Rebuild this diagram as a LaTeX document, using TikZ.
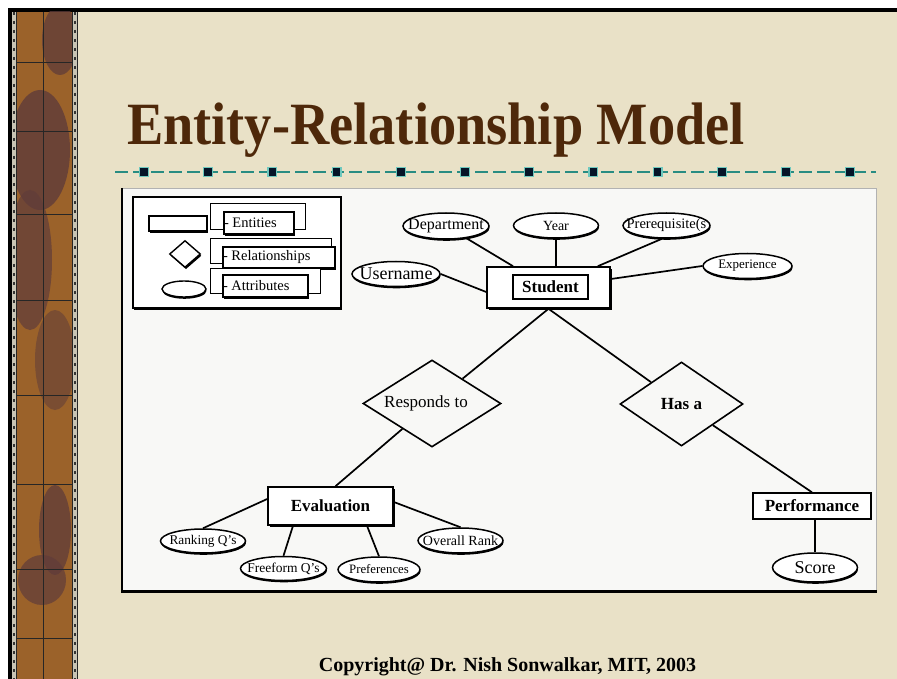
\documentclass[tikz,border=0pt]{standalone}
\usepackage{fontspec}
\setmainfont{Liberation Serif}
\usetikzlibrary{shapes.geometric,shadows,calc}
\definecolor{parch}{RGB}{233,225,199}
\definecolor{titlebrown}{RGB}{78,40,10}
\definecolor{tealline}{RGB}{40,140,130}
\definecolor{tealhalo}{RGB}{110,200,190}
\definecolor{navysq}{RGB}{5,20,40}
\definecolor{panelc}{RGB}{248,248,246}
\definecolor{stripbrown}{RGB}{155,98,42}
\definecolor{stripdark}{RGB}{96,60,58}
\definecolor{sprocket}{RGB}{200,196,180}
\newcommand\fsz[1]{\fontsize{#1}{#1}\selectfont}
\tikzset{
  shad/.style={drop shadow={shadow xshift=#1, shadow yshift=-1.8pt, opacity=1, fill=black}},
  shad/.default=0.8pt,
  attr/.style={ellipse, draw=black, line width=1.5pt, fill=white, inner sep=0pt, shad=0.5pt},
  entbox/.style={rectangle, draw=black, line width=1.5pt, fill=white, inner sep=0pt, font=\bfseries\fsz{17}},
  relbox/.style={diamond, draw=black, line width=1.6pt, fill=panelc, inner sep=0pt, font=\fsz{17}},
  link/.style={draw=black, line width=1.7pt},
  legback/.style={rectangle, draw=black, line width=1pt, fill=white, inner sep=0pt},
  legfront/.style={rectangle, draw=black, line width=1.4pt, fill=white, inner sep=0pt, font=\fsz{14.5}, shad=0.6pt}
}
\begin{document}
\begin{tikzpicture}[x=1pt,y=-1pt]
\useasboundingbox (0,0) rectangle (897,679);
% background and frame
\fill[white] (0,0) rectangle (897,679);
\fill[black] (8,8) rectangle (897,679);
\fill[parch] (12,12) rectangle (897,679);
% left decorative strip
\fill[stripbrown] (12,12) rectangle (77,679);
\begin{scope}
\clip (16,12) rectangle (72,679);
\fill[stripdark, opacity=0.75] (60,40) ellipse [x radius=18, y radius=35];
\fill[stripdark, opacity=0.8] (40,150) ellipse [x radius=30, y radius=60];
\fill[stripdark, opacity=0.7] (30,260) ellipse [x radius=22, y radius=70];
\fill[stripdark, opacity=0.55] (55,360) ellipse [x radius=20, y radius=50];
\fill[stripdark, opacity=0.75] (55,530) ellipse [x radius=16, y radius=45];
\fill[stripdark, opacity=0.7] (42,580) ellipse [x radius=24, y radius=25];
\end{scope}
\fill[sprocket] (12,12) rectangle (16,679);
\fill[sprocket] (72,12) rectangle (77,679);
\draw[black!80, line width=2pt, dash pattern=on 3pt off 6pt] (14,12) -- (14,679);
\draw[black!80, line width=2pt, dash pattern=on 3pt off 6pt] (74.5,12) -- (74.5,679);
\draw[black!85, line width=1pt] (16,12) -- (16,679) (72,12) -- (72,679) (77.5,12) -- (77.5,679);
\draw[black!85, line width=1pt] (43,12) -- (43,679);
\foreach \yy in {63,132,215,300,395,484,569,638}
  \draw[black!85, line width=1pt] (16,\yy) -- (72,\yy);
% title
\node[anchor=base west, inner sep=0pt, text=titlebrown, font=\bfseries\fsz{60}] (title) at (127,145) {\scalebox{0.906}[1]{Entity-Relationship Model}};
% dashed rule
\draw[tealline, line width=1.6pt, dash pattern=on 13pt off 5pt] (115,172) -- (876,172);
\foreach \i in {0,...,11} {
  \fill[tealhalo] ({144+64.2*\i-5},167) rectangle ({144+64.2*\i+5},177);
  \fill[navysq] ({144+64.2*\i-3.8},168.2) rectangle ({144+64.2*\i+3.8},175.8);
}
% white panel
\fill[panelc] (122,188) rectangle (876,592);
\draw[black!30, line width=0.6pt] (122,188) -- (876,188) -- (876,592);
\draw[black, line width=2pt] (122,188) -- (122,592);
\draw[black, line width=3pt] (121,591) -- (877,591);
% legend
\node[rectangle, draw=black, line width=1.3pt, fill=white, minimum width=208pt, minimum height=111pt, shad=1.2pt] (legend) at (237,252.5) {};
\node[rectangle, draw=black, line width=1.3pt, fill=white, minimum width=58pt, minimum height=15pt, shad=1.2pt] (legent) at (178,223.5) {};
\node[diamond, draw=black, line width=1.4pt, fill=white, minimum width=31pt, minimum height=27pt, inner sep=0pt, shad=1pt] (legrel) at (185,254) {};
\node[ellipse, draw=black, line width=1.4pt, fill=white, minimum width=44pt, minimum height=16pt, inner sep=0pt, shad=0.5pt] (legatt) at (184,289) {};
\node[legback, minimum width=95pt, minimum height=26pt] (legb1) at (257.5,217) {};
\node[legfront, minimum width=70pt, minimum height=22pt] (legf1) at (259,223) {\makebox[70pt][l]{- Entities}};
\node[legback, minimum width=121pt, minimum height=24pt] (legb2) at (270.5,251) {};
\node[legfront, minimum width=112pt, minimum height=21pt] (legf2) at (279,257.5) {\makebox[112pt][l]{- Relationships}};
\node[legback, minimum width=110pt, minimum height=25pt] (legb3) at (265,280.5) {};
\node[legfront, minimum width=85pt, minimum height=22pt] (legf3) at (265.5,286) {\makebox[85pt][l]{- Attributes}};
% Student entity
\node[entbox, line width=1.6pt, minimum width=123pt, minimum height=41pt, shad=1.6pt] (student) at (548.5,287.5) {};
\node[entbox, line width=1.3pt, minimum width=75pt, minimum height=24pt] (stulbl) at (550.5,287) {Student};
% Student attributes
\node[attr, minimum width=86pt, minimum height=26pt, font=\fsz{16}] (dept) at (446,226) {\makebox[0pt]{Department}};
\node[attr, minimum width=85pt, minimum height=25pt, font=\fsz{14}] (year) at (556,225.5) {\makebox[0pt]{Year}};
\node[attr, minimum width=87pt, minimum height=25pt, font=\fsz{14.5}] (prereq) at (666.5,225.5) {\makebox[0pt]{Prerequisite(s}};
\node[attr, minimum width=88pt, minimum height=25pt, font=\fsz{18}] (user) at (396,274) {\makebox[0pt]{Username}};
\node[attr, minimum width=89pt, minimum height=25pt, font=\fsz{13}] (exp) at (747.5,266) {\makebox[0pt]{Experience}};
\draw[link] (dept) -- (student);
\draw[link] (year) -- (year |- student.north);
\draw[link] (prereq.252) -- ([xshift=-13pt]student.north east);
\draw[link] (user.east) -- ([yshift=-4.5pt]student.west);
\draw[link] (exp.west) -- ([yshift=8.5pt]student.east);
% relationships
\node[relbox, minimum width=138pt, minimum height=83pt] (resp) at (432,403.5) {\hspace*{-12pt}Responds to};
\node[relbox, minimum width=123pt, minimum height=84pt, font=\bfseries\fsz{17}] (hasa) at (681.5,404) {Has a};
\draw[link] (student.south) -- (resp);
\draw[link] (student.south) -- (hasa);
% Evaluation
\node[entbox, line width=1.6pt, minimum width=125pt, minimum height=38pt, shad=1.6pt] (eval) at (330.5,506) {Evaluation};
\draw[link] (resp) -- ([xshift=5pt]eval.north);
\node[attr, minimum width=85pt, minimum height=24pt, font=\fsz{13.3}] (rank) at (203,541) {\makebox[0pt]{Ranking Q's}};
\node[attr, minimum width=86pt, minimum height=24pt, font=\fsz{13.5}] (free) at (283.5,568.5) {\makebox[0pt]{Freeform Q's}};
\node[attr, minimum width=82pt, minimum height=25pt, font=\fsz{12.8}] (pref) at (379,569.5) {\makebox[0pt]{Preferences}};
\node[attr, minimum width=85pt, minimum height=25pt, font=\fsz{14}] (overall) at (460.5,540.5) {\makebox[0pt]{Overall Rank}};
\draw[link] (rank.north) -- ([yshift=7pt]eval.west);
\draw[link] (free.north) -- ([xshift=-37.5pt]eval.south);
\draw[link] (pref.north) -- ([xshift=36.5pt]eval.south);
\draw[link] (overall.north) -- ([yshift=4pt]eval.east);
% Performance
\node[entbox, line width=1.4pt, minimum width=118pt, minimum height=26pt] (perf) at (812,506) {Performance};
\draw[link] (hasa) -- (perf.north);
\node[attr, minimum width=85pt, minimum height=29pt, font=\fsz{18}] (score) at (815,567.5) {\makebox[0pt]{Score}};
\draw[link] (perf.south -| score.north) -- (score.north);
% copyright
\node[anchor=base, inner sep=0pt, font=\bfseries\fsz{20}] (copy) at (507.5,671) {Copyright@ Dr. Nish Sonwalkar, MIT, 2003};
\end{tikzpicture}
\end{document}
